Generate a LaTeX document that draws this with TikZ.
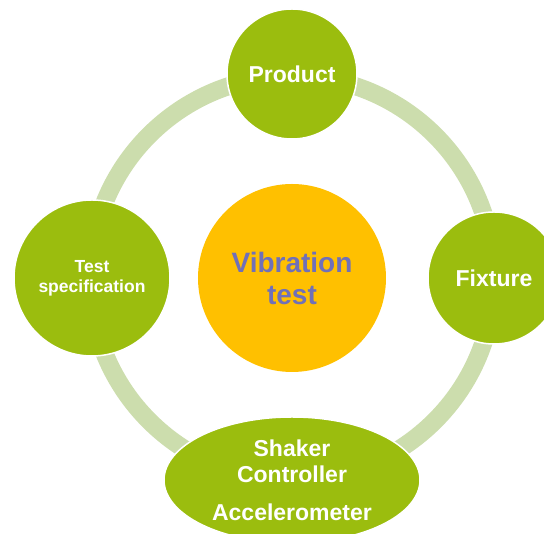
\documentclass[tikz,border=0pt]{standalone}
\usepackage{fontspec}
\setmainfont{Liberation Sans}
\usepackage{xcolor}
\usepackage{tikz}
\definecolor{leaf}{RGB}{155,189,14}
\definecolor{pale}{RGB}{204,221,173}
\definecolor{amber}{RGB}{255,192,0}
\definecolor{slate}{RGB}{112,112,184}
\tikzset{
    part/.style={circle, draw=white, line width=1.5pt, fill=leaf, text=white,
      font=\bfseries\fontsize{23}{26}\selectfont, align=center, inner sep=0pt},
    core/.style={circle, fill=amber, text=slate, inner sep=0pt, minimum size=188pt,
      font=\bfseries\fontsize{28}{32}\selectfont, align=center},
    ring/.style={draw=pale, line width=18pt}}
\usetikzlibrary{shapes.geometric}

\begin{document}
\begin{tikzpicture}[x=1pt, y=1pt]
    \useasboundingbox (-292,-256) rectangle (252,278);
    \node[core] (vib) at (0, 0) {Vibration\\test};
    \draw[ring] (vib.center) circle (202);
    \node[part, minimum size=130pt] (prod) at (0, 204) {Product};
    \node[part, minimum size=156pt, font=\bfseries\fontsize{17.5}{20}\selectfont]
      (spec) at (-200, 0) {Test\\specification};
    \node[part, minimum size=132pt] (fix) at (202, 0) {Fixture};
    \node[part, ellipse, minimum width=256pt, minimum height=126pt]
      (shaker) at (0, -202) {Shaker\\Controller\\[12pt]Accelerometer};
  \end{tikzpicture}
\end{document}
